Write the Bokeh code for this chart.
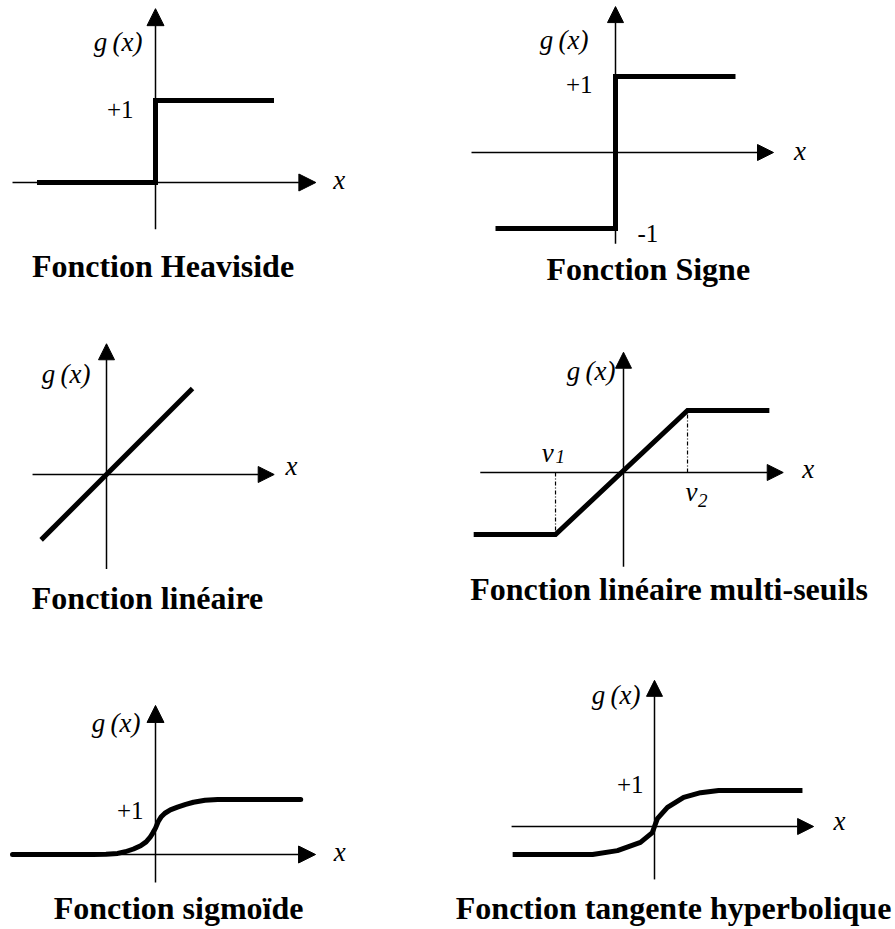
from bokeh.plotting import figure
from bokeh.layouts import column, row
from bokeh.models import Range1d, Arrow, NormalHead
from bokeh.core.properties import value
from bokeh.embed import file_html
from bokeh.resources import INLINE

SERIF = "'Liberation Serif', 'Times New Roman', serif"

# ---------------- data (function units) ----------------
titles = ["Fonction Heaviside", "Fonction Signe", "Fonction linéaire",
          "Fonction linéaire multi-seuils", "Fonction sigmoïde",
          "Fonction tangente hyperbolique"]
ylabel = "g\u2009(x)"
xlabel = "x"

heav_x = [-1.5, 0, 0, 1.5]
heav_y = [0, 0, 1, 1]

sign_x = [-1.5, 0, 0, 1.5]
sign_y = [-1, -1, 1, 1]

lin_x = [-0.76, 1.0]
lin_y = [-0.76, 1.0]

ms_x = [-2.27, -1.03, 0.97, 2.21]
ms_y = [-1, -1, 1, 1]
ms_thresholds = [-1.03, 0.97]
ms_threshold_levels = [-1, 1]
ms_threshold_names = ["v", "v"]
ms_threshold_subs = ["1", "2"]

sig_x = [-2.6, -1.13, -0.9, -0.69, -0.55, -0.4, -0.27, -0.17, -0.1, -0.05, 0.0,
         0.05, 0.1, 0.17, 0.27, 0.4, 0.55, 0.69, 0.9, 1.13, 2.64]
sig_y = [0.0, 0.0, 0.005, 0.02, 0.05, 0.1, 0.16, 0.23, 0.31, 0.39, 0.48,
         0.6, 0.68, 0.75, 0.81, 0.86, 0.91, 0.95, 0.985, 1.0, 1.0]

tanh_x = [-3.94, -1.72, -1.03, -0.39, -0.06, 0.0, 0.08, 0.36, 0.81, 1.28, 1.78, 4.11]
tanh_y = [-0.78, -0.78, -0.67, -0.44, -0.17, 0.0, 0.22, 0.53, 0.81, 0.94, 1.0, 1.0]

tick_plus = "+1"
tick_minus = "-1"


# ---------------- layout helpers ----------------
def panel(left, top, W, H, ox, oy, sx, sy):
    x0 = -(ox - left) / sx
    y1 = (oy - top) / sy
    p = figure(width=W, height=H,
               x_range=Range1d(x0, x0 + W / sx),
               y_range=Range1d(y1 - H / sy, y1),
               x_axis_type=None, y_axis_type=None,
               output_backend="svg", toolbar_location=None, min_border=0)
    p.outline_line_color = None
    p.background_fill_color = "white"
    p.border_fill_color = "white"
    p.tags = [sy]
    return p


def axes(p, xr, yr, head=16):
    p.add_layout(Arrow(x_start=xr[0], y_start=0, x_end=xr[1], y_end=0,
                       line_width=1.5, line_color="black",
                       end=NormalHead(size=head, fill_color="black",
                                      line_color="black", line_width=1)))
    p.add_layout(Arrow(x_start=0, y_start=yr[0], x_end=0, y_end=yr[1],
                       line_width=1.5, line_color="black",
                       end=NormalHead(size=head, fill_color="black",
                                      line_color="black", line_width=1)))


def txt(p, x, y, s, size=24, style="normal", align="left", off=0):
    # renderer puts the baseline ~0.3 em below the anchor: compensate
    sy = p.tags[0]
    y_adj = y + 0.3 * size / sy
    p.text(x=[x], y=[y_adj], text=[s], text_font=value(SERIF),
           text_font_size=f"{size}px", text_font_style=style, text_align=align,
           text_baseline="alphabetic", x_offset=off, text_color="black")


def title(p, x, y, s):
    txt(p, x, y, s, size=32, style="bold", align="center")


THICK = 5
W1, W2 = 448, 447
H1, H2, H3 = 308, 320, 301
GS, TS, XS, VS, SS = 27, 25, 27, 27, 19

# Panel 1: Heaviside
p1 = panel(0, 0, W1, H1, 155, 182, 79, 82)
axes(p1, (-1.81, 2.03), (-0.57, 2.12), 17)
p1.line(heav_x, heav_y, line_width=THICK, line_color="black", line_join="miter")
txt(p1, 0, 1.61, ylabel, GS, style="italic", align="right", off=-13)
txt(p1, 0, 0.80, tick_plus, TS, align="right", off=-22)
txt(p1, 2.25, -0.073, xlabel, XS, style="italic")
title(p1, 0.095, -1.13, titles[0])

# Panel 2: Signe
p2 = panel(W1, 0, W2, H1, 615, 152, 80, 76)
axes(p2, (-1.8, 1.975), (-1.2, 1.92), 16)
p2.line(sign_x, sign_y, line_width=THICK, line_color="black", line_join="miter")
txt(p2, 0, 1.38, ylabel, GS, style="italic", align="right", off=-27)
txt(p2, 0, 0.80, tick_plus, TS, align="right", off=-23)
txt(p2, 0, -1.17, tick_minus, TS, align="left", off=22)
txt(p2, 2.23, -0.09, xlabel, XS, style="italic")
title(p2, 0.41, -1.66, titles[1])

# Panel 3: linéaire
p3 = panel(0, H1, W1, H2, 106, 474, 86, 86)
axes(p3, (-0.86, 1.95), (-1.10, 1.52), 16)
p3.line(lin_x, lin_y, line_width=THICK, line_color="black")
txt(p3, 0, 1.08, ylabel, GS, style="italic", align="right", off=-16)
txt(p3, 2.08, 0.01, xlabel, XS, style="italic")
title(p3, 0.477, -1.55, titles[2])

# Panel 4: linéaire multi-seuils
p4 = panel(W1, H1, W2, H2, 623, 472, 66, 62)
axes(p4, (-2.17, 2.42), (-1.52, 1.94), 16)
p4.segment(x0=ms_thresholds, y0=[0, 0], x1=ms_thresholds, y1=ms_threshold_levels,
           line_width=1.2, line_color="black", line_dash="4 2 1 2")
p4.line(ms_x, ms_y, line_width=THICK, line_color="black", line_join="miter")
txt(p4, 0, 1.5, ylabel, GS, style="italic", align="right", off=-8)
txt(p4, 2.71, -0.08, xlabel, XS, style="italic")
txt(p4, -1.24, 0.19, ms_threshold_names[0], VS, style="italic")
txt(p4, -1.03, 0.16, ms_threshold_subs[0], SS, style="italic")
txt(p4, 0.94, -0.45, ms_threshold_names[1], VS, style="italic")
txt(p4, 1.13, -0.55, ms_threshold_subs[1], SS, style="italic")
title(p4, 0.69, -2.03, titles[3])

# Panel 5: sigmoïde
p5 = panel(0, H1 + H2, W1, H3, 155, 854, 55, 55)
axes(p5, (-2.6, 2.91), (-0.51, 2.71), 17)
p5.line(sig_x, sig_y, line_width=THICK, line_color="black", line_join="round",
        line_cap="round")
txt(p5, 0, 2.25, ylabel, GS, style="italic", align="right", off=-15)
txt(p5, 0, 0.67, tick_plus, TS, align="right", off=-12)
txt(p5, 3.24, -0.11, xlabel, XS, style="italic")
title(p5, 0.42, -1.15, titles[4])

# Panel 6: tangente hyperbolique
p6 = panel(W1, H1 + H2, W2, H3, 654, 826, 36, 36)
axes(p6, (-3.97, 4.42), (-1.47, 4.06), 16)
p6.line(tanh_x, tanh_y, line_width=THICK, line_color="black", line_join="round")
txt(p6, 0, 3.42, ylabel, GS, style="italic", align="right", off=-14)
txt(p6, 0, 0.97, tick_plus, TS, align="right", off=-11)
txt(p6, 4.97, -0.08, xlabel, XS, style="italic")
title(p6, 0.53, -2.53, titles[5])

layout = column(row(p1, p2), row(p3, p4), row(p5, p6))
open("out.html", "w").write(file_html(layout, INLINE))
